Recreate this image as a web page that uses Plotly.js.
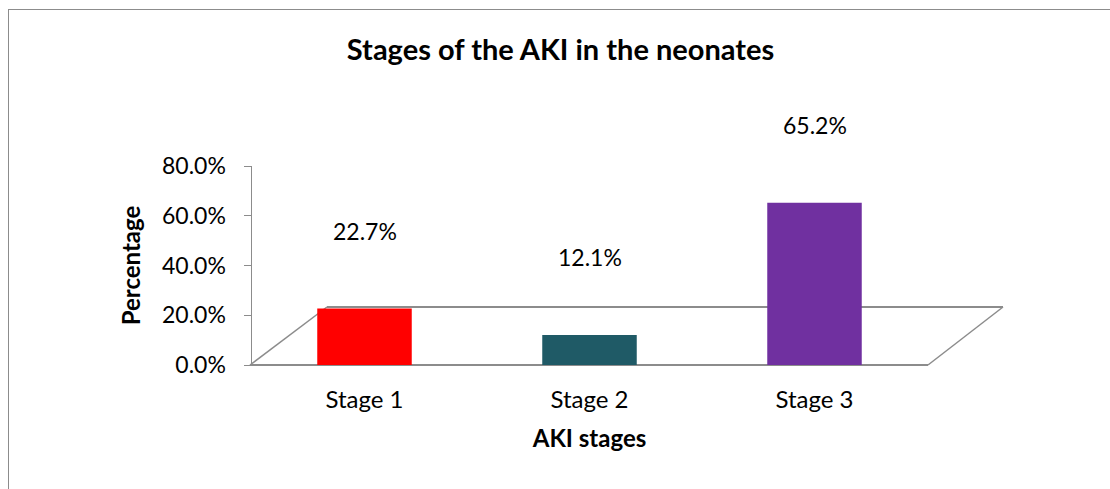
<!DOCTYPE html>
<html>
<head>
<meta charset="utf-8">
<script src="https://cdn.plot.ly/plotly-3.0.1.min.js"></script>
<style>
html,body{margin:0;padding:0;background:#fff;overflow:hidden;}
#chart{position:absolute;left:0;top:0;width:1110px;height:489px;}
#frame{position:absolute;left:8px;top:9px;width:1200px;height:600px;border:1px solid #8c8c8c;pointer-events:none;}
</style>
</head>
<body>
<div id="chart"></div>
<div id="frame"></div>
<script>
const categories = ["Stage 1", "Stage 2", "Stage 3"];
const values = [22.7, 12.1, 65.2];
const labels = ["22.7%", "12.1%", "65.2%"];
const colors = ["#ff0000", "#1f5a66", "#7030a0"];
const yTicks = [0, 20, 40, 60, 80];
const yTickText = ["0.0%", "20.0%", "40.0%", "60.0%", "80.0%"];

const FONT = "Lato, 'Open Sans', sans-serif";

const trace = {
  type: "bar",
  x: categories,
  y: values,
  cliponaxis: false,
  marker: {color: colors, line: {width: 0}},
  width: 0.42,
  hoverinfo: "x+y"
};

const annotations = categories.map((c, i) => ({
  x: c, y: values[i], xref: "x", yref: "y",
  text: labels[i], showarrow: false,
  yanchor: "middle", yshift: 78,
  font: {family: FONT, size: 23, color: "#000"}
}));

const floorColor = "#8c8c8c";
const layout = {
  width: 1110,
  height: 489,
  margin: {l: 252, r: 183, t: 166, b: 124},
  paper_bgcolor: "#fff",
  plot_bgcolor: "rgba(0,0,0,0)",
  showlegend: false,
  annotations: annotations,
  title: {
    text: "<b>Stages of the AKI in the neonates</b>",
    font: {family: FONT, size: 29, color: "#000"},
    x: 0.505, xref: "container", xanchor: "center",
    y: 0.898, yref: "container", yanchor: "middle"
  },
  xaxis: {
    type: "category",
    range: [-0.5, 2.5],
    showline: false,
    ticks: "",
    showgrid: false,
    zeroline: false,
    tickfont: {family: FONT, size: 24, color: "#000"},
    ticklabelstandoff: 18,
    title: {
      text: "<b>AKI stages</b>",
      font: {family: FONT, size: 24, color: "#000"},
      standoff: 18
    }
  },
  yaxis: {
    range: [0, 80],
    tickvals: yTicks,
    ticktext: yTickText,
    showline: true,
    linecolor: floorColor,
    linewidth: 1.5,
    ticks: "outside",
    ticklen: 7,
    tickcolor: floorColor,
    showgrid: false,
    zeroline: false,
    tickfont: {family: FONT, size: 23, color: "#000"},
    ticklabelstandoff: 13,
    title: {
      text: "<b>Percentage</b>",
      font: {family: FONT, size: 24, color: "#000"},
      standoff: 14
    }
  },
  shapes: [
    {type: "line", xref: "paper", yref: "paper", x0: -0.003, y0: 0, x1: 1.0015, y1: 0, line: {color: floorColor, width: 2}, layer: "below"},
    {type: "line", xref: "paper", yref: "paper", x0: 0.111, y0: 0.2915, x1: 1.1126, y1: 0.2915, line: {color: floorColor, width: 2}, layer: "below"},
    {type: "line", xref: "paper", yref: "paper", x0: -0.003, y0: 0, x1: 0.111, y1: 0.2915, line: {color: floorColor, width: 1.5}, layer: "below"},
    {type: "line", xref: "paper", yref: "paper", x0: 1.0015, y0: 0, x1: 1.1126, y1: 0.2915, line: {color: floorColor, width: 1.5}, layer: "below"}
  ]
};

Plotly.newPlot("chart", [trace], layout, {displayModeBar: false, staticPlot: true});
</script>
</body>
</html>
